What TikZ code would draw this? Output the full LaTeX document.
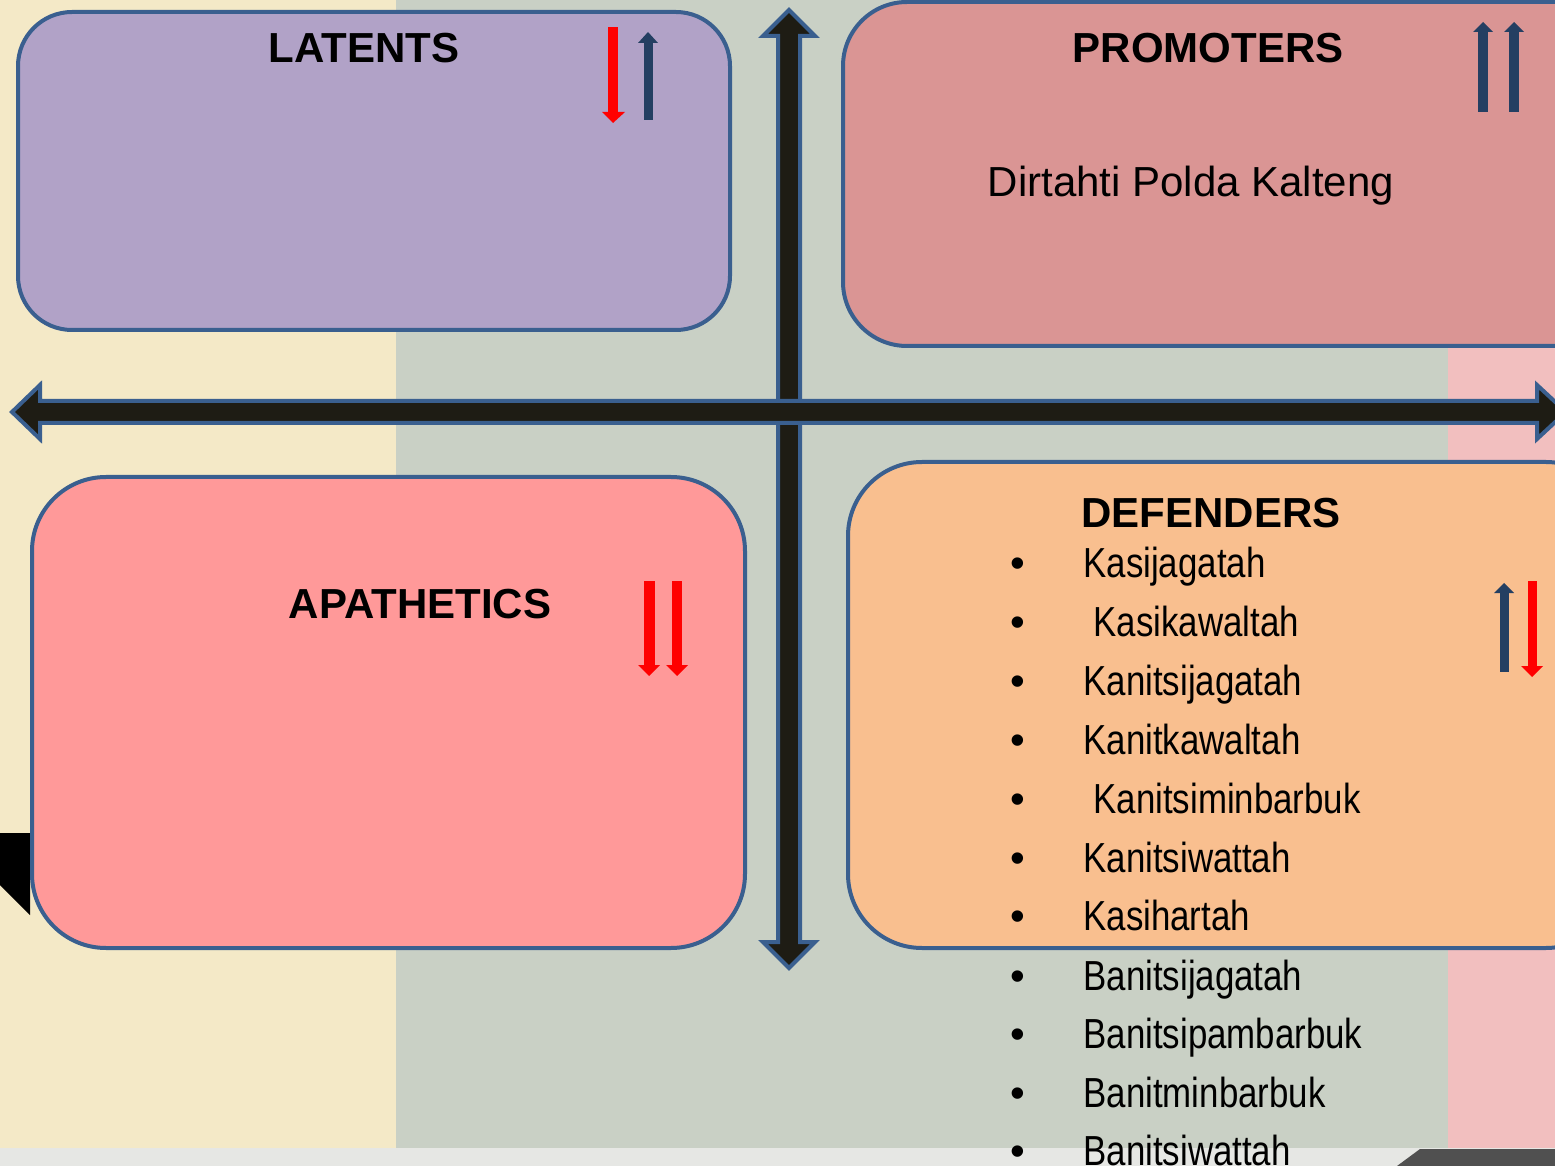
\documentclass[tikz,border=0pt]{standalone}
\usepackage{fontspec}
\setmainfont{Liberation Sans}
\newfontfamily\narrowfont[FakeStretch=0.83]{Liberation Sans}
\usepackage{tikz}
\definecolor{bgbeige}{HTML}{F4E9C7}
\definecolor{bggreen}{HTML}{C9D0C5}
\definecolor{bgpink}{HTML}{F2BFBF}
\definecolor{bgstrip}{HTML}{E6E7E4}
\definecolor{bgdark}{HTML}{505050}
\definecolor{edgeblue}{HTML}{3A5F8F}
\definecolor{axisblack}{HTML}{1E1C14}
\definecolor{navy}{HTML}{243F62}
\definecolor{latentfill}{HTML}{B1A2C7}
\definecolor{promofill}{HTML}{DA9594}
\definecolor{apafill}{HTML}{FF9999}
\definecolor{defill}{HTML}{F9BF8F}

\begin{document}
\begin{tikzpicture}[x=0.5pt,y=-0.5pt]
		\tikzstyle{every node}+=[inner sep=0pt]
		\tikzstyle{quad}=[draw=edgeblue, line width=2pt]
		\tikzstyle{axis}=[fill=axisblack, draw=edgeblue, line width=2pt, line join=miter]
		\tikzstyle{title}=[anchor=base, font=\fontsize{21}{25}\selectfont\bfseries]
		\tikzstyle{item}=[anchor=base west, font=\narrowfont\fontsize{21}{25}\selectfont]
		\tikzstyle{dot}=[anchor=base, font=\fontsize{21}{25}\selectfont]
		\useasboundingbox (0,0) rectangle (1555,1166);
		\clip (0,0) rectangle (1555,1166);
		% background
		\fill [bgbeige] (0,0) rectangle (396,1148);
		\fill [bggreen] (396,0) rectangle (1448,1148);
		\fill [bgpink] (1448,0) rectangle (1555,1148);
		\fill [bgstrip] (0,1148) rectangle (1555,1166);
		\fill [bgdark] (1397,1166) -- (1420,1149) -- (1555,1149) -- (1555,1166) -- cycle;
		\fill [black] (0,833) -- (30,833) -- (30,915) -- (0,885) -- cycle;
		% quadrants
		\draw [quad, fill=latentfill, rounded corners=27pt] (18,12) rectangle (730,330);
		\draw [quad, fill=promofill, rounded corners=32pt] (843,2) rectangle (1620,346);
		\draw [quad, fill=apafill, rounded corners=37pt] (32,477) rectangle (745,948);
		\draw [quad, fill=defill, rounded corners=37pt] (848,462) rectangle (1620,948);
		% axes
		\draw [axis] (789,10) -- (815,36) -- (800,36) -- (800,942) -- (815,942) -- (789,968)
			-- (763,942) -- (778,942) -- (778,36) -- (763,36) -- cycle;
		\draw [axis] (12,412) -- (40,385) -- (40,401) -- (1537,401) -- (1537,385) -- (1566,412)
			-- (1537,439) -- (1537,423) -- (40,423) -- (40,439) -- cycle;
		% titles
		\node [title] (latents) at (364,63) {LATENTS};
		\node [title] (promoters) at (1208,63) {PROMOTERS};
		\node [anchor=base, font=\fontsize{21}{25}\selectfont] (dirtahti) at (1191,197) {Dirtahti Polda Kalteng};
		\node [title] (apathetics) at (420,618) {APATHETICS};
		\node [title] (defenders) at (1211,528) {DEFENDERS};
		% defenders list
		\node [dot] (b1) at (1018,577) {•};
		\node [item] (d1) at (1083,577) {Kasijagatah};
		\node [dot] (b2) at (1018,636) {•};
		\node [item] (d2) at (1093,636) {Kasikawaltah};
		\node [dot] (b3) at (1018,695) {•};
		\node [item] (d3) at (1083,695) {Kanitsijagatah};
		\node [dot] (b4) at (1018,754) {•};
		\node [item] (d4) at (1083,754) {Kanitkawaltah};
		\node [dot] (b5) at (1018,813) {•};
		\node [item] (d5) at (1093,813) {Kanitsiminbarbuk};
		\node [dot] (b6) at (1018,872) {•};
		\node [item] (d6) at (1083,872) {Kanitsiwattah};
		\node [dot] (b7) at (1018,930) {•};
		\node [item] (d7) at (1083,930) {Kasihartah};
		\node [dot] (b8) at (1018,990) {•};
		\node [item] (d8) at (1083,990) {Banitsijagatah};
		\node [dot] (b9) at (1018,1048) {•};
		\node [item] (d9) at (1083,1048) {Banitsipambarbuk};
		\node [dot] (b10) at (1018,1107) {•};
		\node [item] (d10) at (1083,1107) {Banitminbarbuk};
		\node [dot] (b11) at (1018,1165) {•};
		\node [item] (d11) at (1083,1165) {Banitsiwattah};
		% latents arrows
		\fill [red] (608,27) rectangle (618,113);
		\fill [red] (602,112) -- (625,112) -- (613,123) -- cycle;
		\fill [navy] (644,42) rectangle (653,120);
		\fill [navy] (638,43) -- (658,43) -- (648,32) -- cycle;
		% promoters arrows
		\fill [navy] (1478,31) rectangle (1488,112);
		\fill [navy] (1473,32) -- (1493,32) -- (1483,22) -- cycle;
		\fill [navy] (1509,31) rectangle (1519,112);
		\fill [navy] (1504,32) -- (1524,32) -- (1514,22) -- cycle;
		% apathetics arrows
		\fill [red] (644,581) rectangle (655,666);
		\fill [red] (638,665) -- (660,665) -- (649,676) -- cycle;
		\fill [red] (672,581) rectangle (682,666);
		\fill [red] (666,665) -- (688,665) -- (677,676) -- cycle;
		% defenders arrows
		\fill [navy] (1500,592) rectangle (1509,672);
		\fill [navy] (1494,593) -- (1514,593) -- (1504,583) -- cycle;
		\fill [red] (1528,581) rectangle (1537,667);
		\fill [red] (1521,666) -- (1543,666) -- (1532,677) -- cycle;
	\end{tikzpicture}
\end{document}
